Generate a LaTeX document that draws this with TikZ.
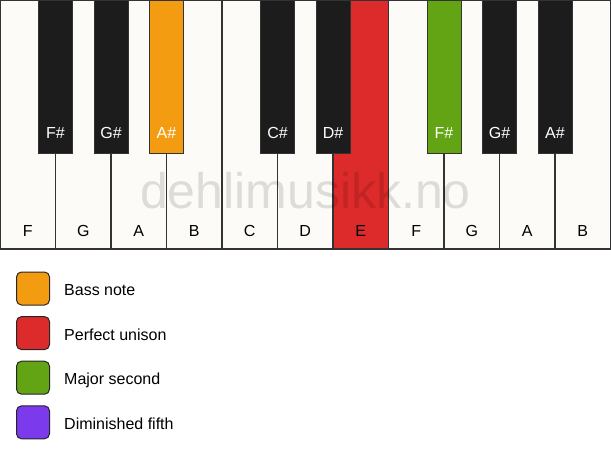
\documentclass[tikz,border=0pt]{standalone}
\usepackage{fontspec}
\setmainfont{Liberation Sans}
\definecolor{keywhite}{HTML}{FCFBF8}
\definecolor{keyblack}{HTML}{1C1C1C}
\definecolor{bassnote}{HTML}{F39C12}
\definecolor{unison}{HTML}{DD2A2A}
\definecolor{second}{HTML}{62A413}
\definecolor{dimfifth}{HTML}{7B3AEC}

\begin{document}
\begin{tikzpicture}[x=1pt,y=-1pt,
  whitekey/.style={draw=black!80, line width=1.5pt},
  blackkey/.style={draw=black!80, line width=1pt},
  keytext/.style={font=\fontsize{16}{19}\selectfont, inner sep=0pt},
  swatch/.style={draw=black!85, line width=1pt, rounded corners=5pt, minimum size=33pt, inner sep=0pt}]
%\draw[gray!35] (0,0) grid[step=50] (611,461);
\useasboundingbox (0,0) rectangle (611,461);

% white keys
\foreach \name/\col [count=\i from 0] in {F/keywhite, G/keywhite, A/keywhite, B/keywhite,
    C/keywhite, D/keywhite, E/unison, F/keywhite, G/keywhite, A/keywhite, B/keywhite} {
  \draw[whitekey, fill=\col] (\i*55.5,0) rectangle ++(55.5,249);
  \node[keytext, anchor=base] (w\i) at (\i*55.5+27.75,236) {\name};
}

% black keys
\foreach \name/\pos/\col in {F\#/1/keyblack, G\#/2/keyblack, A\#/3/bassnote,
    C\#/5/keyblack, D\#/6/keyblack, F\#/8/second, G\#/9/keyblack, A\#/10/keyblack} {
  \draw[blackkey, fill=\col] (\pos*55.5-17,0) rectangle ++(34,153);
  \node[keytext, text=white, anchor=base] (b\pos) at (\pos*55.5,138.5) {\name};
}

\node[font=\fontsize{50}{58}\selectfont, text=black, text opacity=0.12, anchor=base]
  (mark) at (305.5,208) {dehlimusikk.no};

% legend
\foreach \txt/\col [count=\k from 0] in {Bass note/bassnote, Perfect unison/unison,
    Major second/second, Diminished fifth/dimfifth} {
  \node[swatch, fill=\col] (sw\k) at (33,288.5+\k*44.6) {};
  \node[keytext, anchor=base west] (lg\k) at (64,295.5+\k*44.6) {\txt};
}
\end{tikzpicture}
\end{document}
